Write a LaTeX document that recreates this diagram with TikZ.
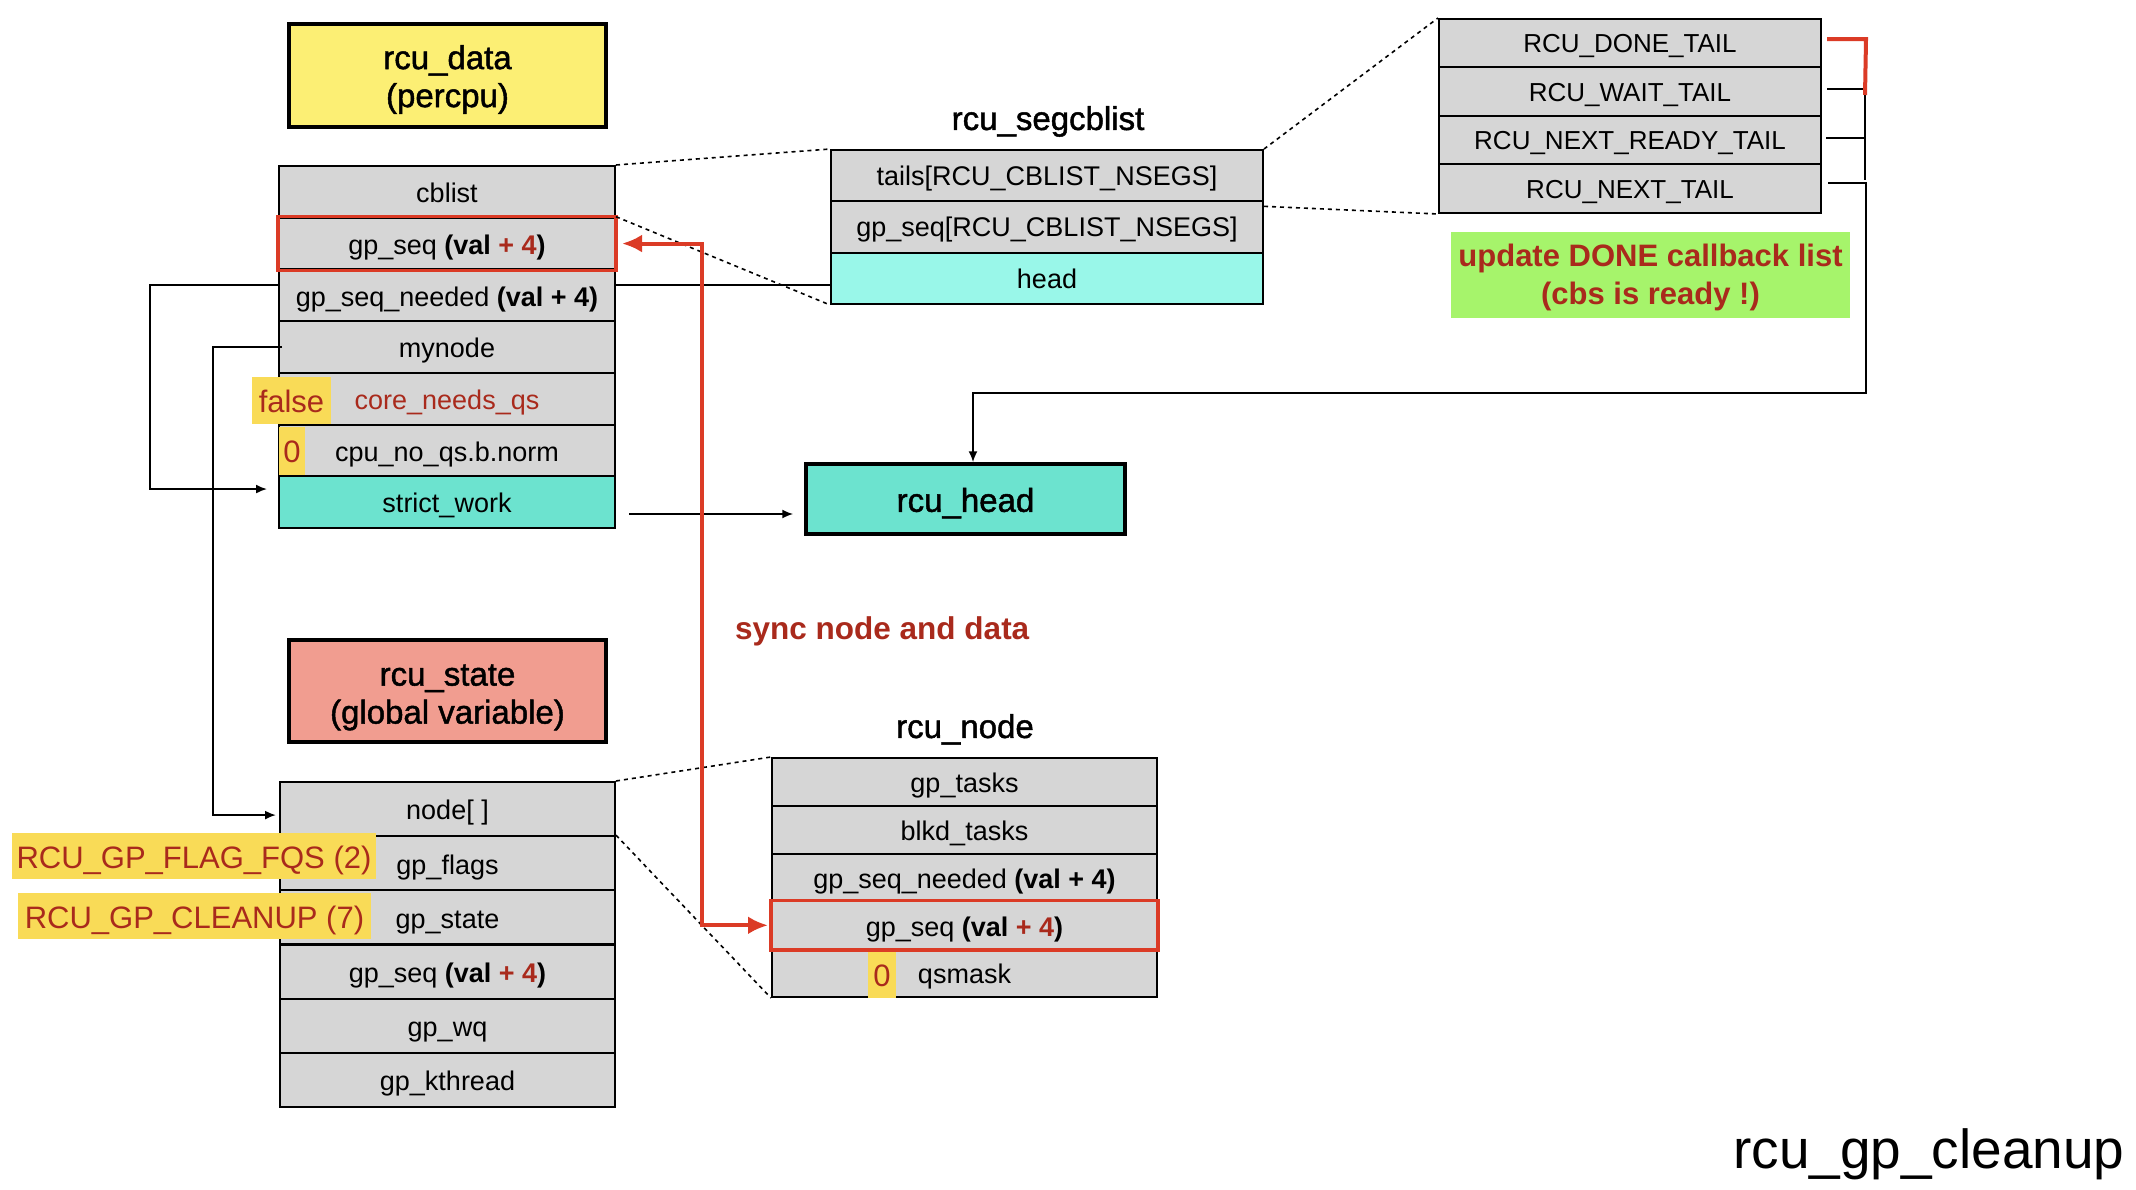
\documentclass[tikz,border=0pt]{standalone}
\usepackage{fontspec}
\setmainfont{Liberation Sans}
\newfontfamily\titlefont[FakeBold=1.4]{Liberation Sans}
\usetikzlibrary{arrows.meta,calc,backgrounds}
\definecolor{rowgray}{RGB}{214,214,214}
\definecolor{datayellow}{RGB}{252,239,116}
\definecolor{statesalmon}{RGB}{241,157,144}
\definecolor{tealfill}{RGB}{108,227,207}
\definecolor{lightcyan}{RGB}{153,247,233}
\definecolor{greenbox}{RGB}{166,244,107}
\definecolor{labelyellow}{RGB}{249,219,87}
\definecolor{redtxt}{RGB}{169,42,28}
\definecolor{redline}{RGB}{219,59,38}
\begin{document}
\begin{tikzpicture}[x=1pt,y=-1pt,
  rowbox/.style={draw=black, line width=2pt, fill=rowgray, inner sep=0pt, text height=21.5pt, text depth=0pt, font=\fontsize{27}{32}\selectfont},
  cbrow/.style={rowbox, minimum width=336, minimum height=51.7},
  strow/.style={rowbox, minimum width=335, minimum height=54.17},
  sgrow/.style={rowbox, minimum width=432, minimum height=51.33, text height=20pt},
  tlrow/.style={rowbox, minimum width=382, minimum height=48.5, text height=19pt, font=\fontsize{26}{31}\selectfont},
  ndrow/.style={rowbox, minimum width=385, minimum height=47.8},
  titlebox/.style={draw=black, line width=3.5pt, inner sep=0pt, align=center, font=\fontsize{33}{38}\titlefont},
  titletxt/.style={inner sep=0pt, text depth=0pt, font=\fontsize{33}{38}\titlefont},
  labelbox/.style={fill=labelyellow, inner sep=0pt, text height=24pt, text depth=0pt, text=redtxt, font=\fontsize{31}{36}\selectfont},
  conn/.style={draw=black, line width=1.8pt, -{Latex[length=11pt,width=9pt]}},
  plainline/.style={draw=black, line width=1.8pt},
  redconn/.style={draw=redline, line width=4pt, {Latex[length=20pt,width=18pt]}-{Latex[length=20pt,width=18pt]}},
  redbox/.style={draw=redline, line width=3.5pt},
  dotconn/.style={draw=black, line width=1.6pt, dash pattern=on 4pt off 4pt}
]
\useasboundingbox (0,0) rectangle (2136,1190);

% segcblist rows
\node[sgrow] (g1) at (1047,175.7) {tails[RCU\_CBLIST\_NSEGS]};
\node[sgrow] (g2) at (1047,227) {gp\_seq[RCU\_CBLIST\_NSEGS]};
\node[sgrow, fill=lightcyan] (g3) at (1047,278.3) {head};

% rcu_data title box
\node[titlebox, fill=datayellow, minimum width=317, minimum height=103] (rdata) at (447.5,75.5) {\rule{0pt}{32pt}rcu\_data\\(percpu)};

% cblist struct (rcu_data)
\node[cbrow] (d1) at (447,191.85) {cblist};
\node[cbrow] (d2) at (447,243.55) {gp\_seq \textbf{(val {\color{redtxt}+ 4})}};
\node[cbrow] (d3) at (447,295.25) {gp\_seq\_needed \textbf{(val + 4)}};
\node[cbrow] (d4) at (447,346.95) {mynode};
\node[cbrow] (d5) at (447,398.65) {{\color{redtxt}core\_needs\_qs}};
\node[cbrow] (d6) at (447,450.35) {cpu\_no\_qs.b.norm};
\node[cbrow, fill=tealfill] (d7) at (447,502.05) {strict\_work};
\draw[redbox] (d2.north west) rectangle (d2.south east);

% head -> strict_work (behind the cblist struct)
\begin{scope}[on background layer]
\draw[conn] ([yshift=-6.5]g3.west) -- ++(-680,0) |- ([xshift=-11,yshift=13]d7.west);
\end{scope}

\node[labelbox, minimum width=79, minimum height=47] (lfalse) at (291.5,400.5) {false};
\node[labelbox, minimum width=26, minimum height=48, text height=23pt] (lzero) at (292,451) {0};

% rcu_state title box
\node[titlebox, fill=statesalmon, minimum width=317, minimum height=102] (rstate) at (447.5,691) {\rule{0pt}{34pt}rcu\_state\\(global variable)};

% rcu_state struct
\node[strow] (s1) at (447.5,809.08) {node[ ]};
\node[strow] (s2) at (447.5,863.25) {gp\_flags};
\node[strow] (s3) at (447.5,917.4) {gp\_state};
\node[strow] (s4) at (447.5,971.6) {gp\_seq \textbf{(val {\color{redtxt}+ 4})}};
\node[strow] (s5) at (447.5,1025.75) {gp\_wq};
\node[strow] (s6) at (447.5,1079.9) {gp\_kthread};

\node[labelbox, minimum width=364, minimum height=46] (lfqs) at (194,856) {RCU\_GP\_FLAG\_FQS (2)};
\node[labelbox, minimum width=353, minimum height=46] (lclean) at (194.5,916) {RCU\_GP\_CLEANUP (7)};

% segcblist title
\node[titletxt] (tseg) at (1048,118) {rcu\_segcblist};

% TAIL box
\node[tlrow] (t1) at (1630,43.25) {RCU\_DONE\_TAIL};
\node[tlrow] (t2) at (1630,91.75) {RCU\_WAIT\_TAIL};
\node[tlrow] (t3) at (1630,140.25) {RCU\_NEXT\_READY\_TAIL};
\node[tlrow] (t4) at (1630,188.75) {RCU\_NEXT\_TAIL};

% green note
\node[fill=greenbox, inner sep=0pt, minimum width=399, minimum height=86, align=center, text=redtxt, font=\fontsize{31}{38}\selectfont\bfseries] (note) at (1650.5,275) {\rule{0pt}{28pt}update DONE callback list\\(cbs is ready !)};

% rcu_head
\node[titlebox, fill=tealfill, minimum width=319, minimum height=70, text height=25.6pt, text depth=0pt] (rh) at (965.5,499) {rcu\_head};

% rcu_node
\node[titletxt] (tnode) at (965,726) {rcu\_node};
\node[ndrow] (n1) at (964.5,781.9) {gp\_tasks};
\node[ndrow] (n2) at (964.5,829.7) {blkd\_tasks};
\node[ndrow] (n3) at (964.5,877.5) {gp\_seq\_needed \textbf{(val + 4)}};
\node[ndrow] (n4) at (964.5,925.3) {gp\_seq \textbf{(val {\color{redtxt}+ 4})}};
\node[ndrow] (n5) at (964.5,973.1) {qsmask};
\draw[redbox] (n4.north west) rectangle (n4.south east);
\node[labelbox, minimum width=28, minimum height=46, text height=23pt] (lzero2) at (882,975) {0};

% sync text
\node[anchor=west, inner sep=0pt, text depth=0pt, text=redtxt, font=\fontsize{31.5}{36}\selectfont\bfseries] (sync) at (735,628) {sync node and data};

% function name
\node[anchor=base west, inner sep=0pt, font=\fontsize{55}{60}\selectfont] (fname) at (1733,1168) {rcu\_gp\_cleanup};

% dotted zoom lines
\draw[dotconn] (d1.north east) -- (g1.north west);
\draw[dotconn] (d2.north east) -- (g3.south west);
\draw[dotconn] (g1.north east) -- (t1.north west);
\draw[dotconn] ([yshift=-6]g2.north east) -- (t4.south west);
\draw[dotconn] (s1.north east) -- (n1.north west);
\draw[dotconn] (s2.north east) -- (n5.south west);

% mynode -> node[]
\draw[conn] ([xshift=4]d4.west) -- ++(-69,0) |- ([xshift=-3,yshift=-6]s1.west);

% strict_work -> rcu_head
\draw[conn] ([xshift=13,yshift=-12]d7.east) -- ([xshift=-11,yshift=-15]rh.west);

% TAIL bus
\coordinate (busA) at (1865,95);
\coordinate (busB) at (1865,180);
\draw[plainline] ([xshift=5,yshift=3]t2.east) -- ++(39,0);
\draw[plainline] ([xshift=4,yshift=2]t3.east) -- ++(40,0);
\draw[plainline] (busA) -- (busB);
\draw[conn] ([xshift=6,yshift=6]t4.east) -- ++(38,0) -- ++(0,210) -| ([xshift=7.5]rh.north);
\draw[draw=redline, line width=4pt] ([xshift=5,yshift=4]t1.east) -- ++(39,0) -- (busA);

% sync red arrow
\draw[redconn] ([xshift=6]d2.east) -- ++(80,0) |- ([xshift=-3]n4.west);
\end{tikzpicture}
\end{document}
